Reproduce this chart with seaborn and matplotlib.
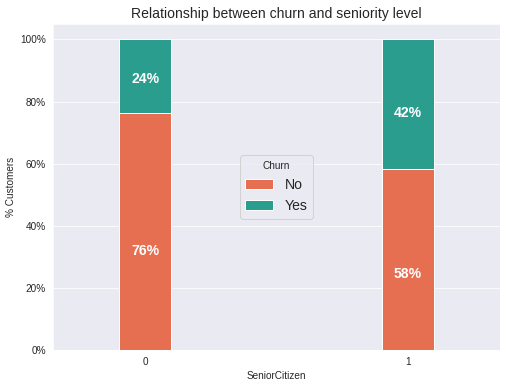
import pandas as pd
import numpy as np
import matplotlib.pyplot as plt
import seaborn as sns
from matplotlib.ticker import PercentFormatter

senior = ["0", "1"]
churn_no = [76.39, 58.32]
churn_yes = [23.61, 41.68]
colors = ["#e76f51", "#2a9d8f"]

sns.set_style("darkgrid")
plt.rcParams["font.family"] = ["Liberation Sans", "DejaVu Sans"]

df = pd.DataFrame({"SeniorCitizen": senior, "No": churn_no, "Yes": churn_yes})
df["Total"] = df["No"] + df["Yes"]

fig = plt.figure(figsize=(506 / 72, 386 / 72), dpi=72)
ax = fig.add_axes([0.105, 0.093, 0.883, 0.845])

sns.barplot(x="SeniorCitizen", y="Total", data=df, color=colors[1], width=0.2,
            edgecolor="white", linewidth=1, saturation=1, ax=ax, label="Yes")
sns.barplot(x="SeniorCitizen", y="No", data=df, color=colors[0], width=0.2,
            edgecolor="white", linewidth=1, saturation=1, ax=ax, label="No")

# labels sit at 40% of each segment's height
for i in range(len(senior)):
    ax.text(i, churn_no[i] * 0.4, f"{churn_no[i]:.0f}%", ha="center",
            color="white", fontsize=14, fontweight="bold")
    ax.text(i, churn_no[i] + churn_yes[i] * 0.4, f"{churn_yes[i]:.0f}%", ha="center",
            color="white", fontsize=14, fontweight="bold")

ax.set_xlim(-0.35, 1.35)
ax.set_ylim(0, 105)
ax.yaxis.set_major_formatter(PercentFormatter(decimals=0))
ax.set_ylabel("% Customers")
ax.set_xlabel("SeniorCitizen")
ax.set_title("Relationship between churn and seniority level", fontsize=14)

handles, labels = ax.get_legend_handles_labels()
order = [labels.index("No"), labels.index("Yes")]
ax.legend([handles[k] for k in order], ["No", "Yes"], title="Churn",
          loc="center", fontsize=14)

fig.savefig("out.png", dpi=72)
